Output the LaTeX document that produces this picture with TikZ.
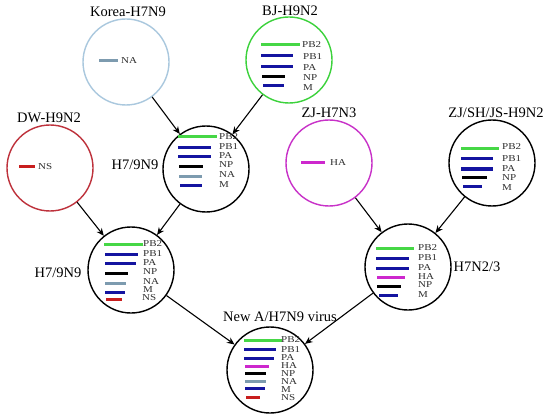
\documentclass[tikz,border=0pt]{standalone}
\usepackage{fontspec}
\usepackage{graphicx}
\setmainfont{Liberation Serif}
\usetikzlibrary{arrows.meta}
\definecolor{cpbtwo}{RGB}{70,215,70}
\definecolor{cblue}{RGB}{20,20,160}
\definecolor{cna}{RGB}{125,155,175}
\definecolor{cha}{RGB}{205,40,205}
\definecolor{cns}{RGB}{200,30,30}
\definecolor{ckorea}{RGB}{170,200,222}
\definecolor{cbj}{RGB}{60,210,60}
\definecolor{cdw}{RGB}{190,50,60}
\definecolor{czj}{RGB}{200,50,200}
\definecolor{ctxt}{RGB}{45,45,45}
\newcommand{\gtxt}[1]{\scalebox{1}[0.82]{#1}}
\tikzset{
  virus/.style={circle, draw, line width=1.4pt, minimum size=86pt, inner sep=0pt},
  title/.style={font=\fontsize{14.5}{14.5}\selectfont, text=black, inner sep=0pt},
  gene/.style={font=\fontsize{11}{11}\selectfont, text=ctxt, anchor=west, inner sep=0pt},
  bar/.style={line width=3pt},
  link/.style={line width=1.1pt, -{Stealth[length=7.5pt,width=6.5pt]}}
}
\begin{document}
\begin{tikzpicture}[x=1pt,y=-1pt]
\useasboundingbox (0,0) rectangle (548,414);
\fill[white] (0,0) rectangle (548,414);

% circles
\node[virus, draw=ckorea] (korea) at (126,62) {};
\node[virus, draw=cbj] (bj) at (289,60) {};
\node[virus, draw=cdw] (dw) at (50,168) {};
\node[virus] (hA) at (206,169) {};
\node[virus] (hB) at (131,270) {};
\node[virus, draw=czj] (zj) at (329,163) {};
\node[virus] (zjs) at (492,163) {};
\node[virus] (h723) at (408,267) {};
\node[virus] (newv) at (270,370) {};

% titles
\node[title] (tkorea) at (128,12) {Korea-H7N9};
\node[title] (tbj) at (290,11) {BJ-H9N2};
\node[title] (tdw) at (49,118) {DW-H9N2};
\node[title] (thA) at (135,165) {H7/9N9};
\node[title] (thB) at (58,273) {H7/9N9};
\node[title] (tzj) at (329,113) {ZJ-H7N3};
\node[title] (tzjs) at (496,113) {ZJ/SH/JS-H9N2};
\node[title] (th723) at (477,267) {H7N2/3};
\node[title] (tnew) at (280,317) {New A/H7N9 virus};

% Korea
\draw[bar, cna] (99,61) -- (118,61);
\node[gene] (korea-na) at (121,61) {\gtxt{NA}};

% BJ
\draw[bar, cpbtwo] (261,45) -- (300,45);
\draw[bar, cblue] (261,56) -- (293,56);
\draw[bar, cblue] (261,67) -- (293,67);
\draw[bar, black] (262,77) -- (285,77);
\draw[bar, cblue] (263,86) -- (284,86);
\node[gene] (bj-pb2) at (302,45) {\gtxt{PB2}};
\node[gene] (bj-pb1) at (303,57) {\gtxt{PB1}};
\node[gene] (bj-pa) at (303,68) {\gtxt{PA}};
\node[gene] (bj-np) at (303,78) {\gtxt{NP}};
\node[gene] (bj-m) at (303,88) {\gtxt{M}};

% DW
\draw[bar, cns] (19,167) -- (35,167);
\node[gene] (dw-ns) at (38,167) {\gtxt{NS}};

% upper H7/9N9
\draw[bar, cpbtwo] (178,137) -- (217,137);
\draw[bar, cblue] (178,148) -- (211,148);
\draw[bar, cblue] (178,157) -- (211,157);
\draw[bar, black] (179,167) -- (203,167);
\draw[bar, cna] (179,176) -- (202,176);
\draw[bar, cblue] (180,185) -- (202,185);
\node[gene] (hA-pb2) at (219,137) {\gtxt{PB2}};
\node[gene] (hA-pb1) at (219,147) {\gtxt{PB1}};
\node[gene] (hA-pa) at (219,156) {\gtxt{PA}};
\node[gene] (hA-np) at (219,165) {\gtxt{NP}};
\node[gene] (hA-na) at (219,175) {\gtxt{NA}};
\node[gene] (hA-m) at (219,185) {\gtxt{M}};

% lower H7/9N9
\draw[bar, cpbtwo] (104,244) -- (143,244);
\draw[bar, cblue] (105,254) -- (138,254);
\draw[bar, cblue] (105,263) -- (136,263);
\draw[bar, black] (105,273) -- (128,273);
\draw[bar, cna] (105,283) -- (126,283);
\draw[bar, cblue] (105,292) -- (125,292);
\draw[bar, cns] (106,299) -- (122,299);
\node[gene] (hB-pb2) at (143,244) {\gtxt{PB2}};
\node[gene] (hB-pb1) at (143,254) {\gtxt{PB1}};
\node[gene] (hB-pa) at (143,263) {\gtxt{PA}};
\node[gene] (hB-np) at (143,272) {\gtxt{NP}};
\node[gene] (hB-na) at (143,282) {\gtxt{NA}};
\node[gene] (hB-m) at (143,290) {\gtxt{M}};
\node[gene] (hB-ns) at (142,298) {\gtxt{NS}};

% ZJ-H7N3
\draw[bar, cha] (301,163) -- (325,163);
\node[gene] (zj-ha) at (330,163) {\gtxt{HA}};

% ZJ/SH/JS
\draw[bar, cpbtwo] (461,149) -- (499,149);
\draw[bar, cblue] (461,159) -- (493,159);
\draw[bar, cblue] (461,169) -- (493,169);
\draw[bar, black] (462,177) -- (487,177);
\draw[bar, cblue] (463,186) -- (482,186);
\node[gene] (zjs-pb2) at (502,147) {\gtxt{PB2}};
\node[gene] (zjs-pb1) at (502,159) {\gtxt{PB1}};
\node[gene] (zjs-pa) at (502,169) {\gtxt{PA}};
\node[gene] (zjs-np) at (502,178) {\gtxt{NP}};
\node[gene] (zjs-m) at (502,188) {\gtxt{M}};

% H7N2/3
\draw[bar, cpbtwo] (376,248) -- (414,248);
\draw[bar, cblue] (376,258) -- (409,258);
\draw[bar, cblue] (376,268) -- (409,268);
\draw[bar, cha] (377,277) -- (405,277);
\draw[bar, black] (377,286) -- (401,286);
\draw[bar, cblue] (379,295) -- (398,295);
\node[gene] (h723-pb2) at (418,248) {\gtxt{PB2}};
\node[gene] (h723-pb1) at (418,258) {\gtxt{PB1}};
\node[gene] (h723-pa) at (418,268) {\gtxt{PA}};
\node[gene] (h723-ha) at (418,277) {\gtxt{HA}};
\node[gene] (h723-np) at (418,285) {\gtxt{NP}};
\node[gene] (h723-m) at (418,295) {\gtxt{M}};

% New A/H7N9
\draw[bar, cpbtwo] (244,340) -- (282,340);
\draw[bar, cblue] (244,349) -- (276,349);
\draw[bar, cblue] (244,358) -- (274,358);
\draw[bar, cha] (245,366) -- (269,366);
\draw[bar, black] (245,373) -- (266,373);
\draw[bar, cna] (245,381) -- (266,381);
\draw[bar, cblue] (245,388) -- (265,388);
\draw[bar, cns] (246,397) -- (260,397);
\node[gene] (newv-pb2) at (281,340) {\gtxt{PB2}};
\node[gene] (newv-pb1) at (281,350) {\gtxt{PB1}};
\node[gene] (newv-pa) at (281,358) {\gtxt{PA}};
\node[gene] (newv-ha) at (281,366) {\gtxt{HA}};
\node[gene] (newv-np) at (281,374) {\gtxt{NP}};
\node[gene] (newv-na) at (281,382) {\gtxt{NA}};
\node[gene] (newv-m) at (281,389.5) {\gtxt{M}};
\node[gene] (newv-ns) at (281,398) {\gtxt{NS}};

% connectors
\draw[link] (korea) -- (hA);
\draw[link] (bj) -- (hA);
\draw[link] (dw) -- (hB);
\draw[link] (hA) -- (hB);
\draw[link] (zj) -- (h723);
\draw[link] (zjs) -- (h723);
\draw[link] (hB) -- (newv);
\draw[link] (h723) -- (newv);
\end{tikzpicture}
\end{document}
